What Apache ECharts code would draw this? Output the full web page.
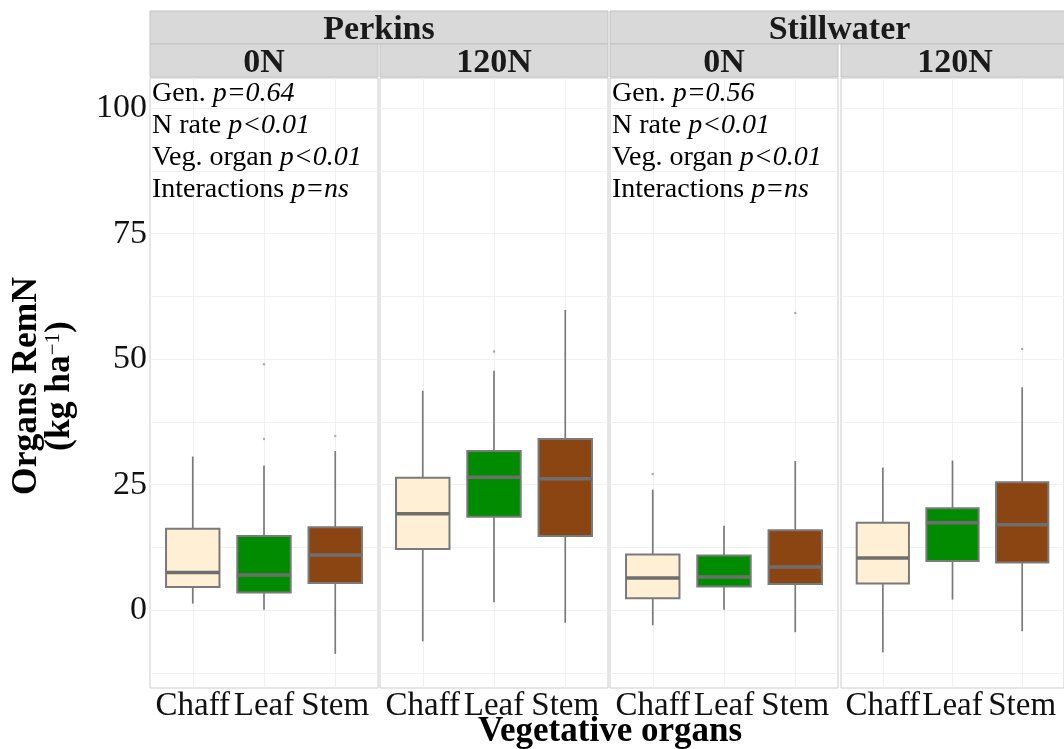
<!DOCTYPE html>
<html>
<head>
<meta charset="utf-8">
<script src="https://cdn.jsdelivr.net/npm/echarts@6/dist/echarts.min.js"></script>
<style>html,body{margin:0;padding:0;background:#fff;}#c{width:1064px;height:749px;}</style>
</head>
<body>
<div id="c"></div>
<script>
// ---- data ----
const organs = ['Chaff', 'Leaf', 'Stem'];
const organColors = ['#FFEFD5', '#008B00', '#8B4513'];
const sites = ['Perkins', 'Stillwater'];
const nRates = ['0N', '120N'];
const yTicks = [0, 25, 50, 75, 100];
const yGrid = [-12.5, 0, 12.5, 25, 37.5, 50, 62.5, 75, 87.5, 100];
// [min, q1, median, q3, max] per organ (Chaff, Leaf, Stem)
const perkins0N = [[1.3, 4.6, 7.5, 16.2, 30.6], [0.1, 3.5, 7.0, 14.8, 28.8], [-8.7, 5.4, 11.0, 16.5, 31.7]];
const perkins120N = [[-6.2, 12.2, 19.2, 26.4, 43.7], [1.6, 18.6, 26.5, 31.7, 47.7], [-2.5, 14.8, 26.2, 34.1, 59.8]];
const stillwater0N = [[-3.0, 2.4, 6.4, 11.1, 24.0], [0.1, 4.7, 6.6, 10.9, 16.8], [-4.4, 5.2, 8.6, 15.9, 29.7]];
const stillwater120N = [[-8.4, 5.3, 10.4, 17.4, 28.4], [2.1, 9.8, 17.4, 20.3, 29.8], [-4.2, 9.5, 17.0, 25.5, 44.4]];
// outliers: [organ index (1-based), value]
const perkins0NOut = [[2, 49.0], [2, 34.1], [3, 34.7]];
const perkins120NOut = [[2, 51.5]];
const stillwater0NOut = [[1, 27.1], [3, 59.2]];
const stillwater120NOut = [[3, 52.0]];
const statsText = [
  ['Gen. ', 'p=0.64', 'N rate ', 'p<0.01', 'Veg. organ ', 'p<0.01', 'Interactions ', 'p=ns'],
  ['Gen. ', 'p=0.56', 'N rate ', 'p<0.01', 'Veg. organ ', 'p<0.01', 'Interactions ', 'p=ns']
];

const panelStats = [perkins0N, perkins120N, stillwater0N, stillwater120N];
const panelOut = [perkins0NOut, perkins120NOut, stillwater0NOut, stillwater120NOut];

// ---- layout ----
const FONT = 'Liberation Serif';
const lefts = [150, 380, 610, 841];
const PW = 228, TOP = 78, PH = 610;
const YMIN = -15.5, YMAX = 106;

const grids = [], xAxes = [], yAxes = [], series = [];
lefts.forEach((l, i) => {
  grids.push({left: l, top: TOP, width: PW, height: PH, show: true, borderColor: '#CCCCCC', borderWidth: 1, backgroundColor: '#fff'});
  xAxes.push({
    type: 'value', gridIndex: i, min: 0.4, max: 3.6,
    axisLine: {show: false},
    axisTick: {show: false, customValues: [1, 2, 3]},
    axisLabel: {show: true, customValues: [1, 2, 3], formatter: v => organs[Math.round(v) - 1] || '',
      fontFamily: FONT, fontSize: 33, color: '#111', margin: 2},
    splitLine: {show: true, lineStyle: {color: '#F0F0F0', width: 1}}
  });
  yAxes.push({
    type: 'value', gridIndex: i, min: YMIN, max: YMAX,
    axisLine: {show: false},
    axisTick: {show: false, customValues: yGrid},
    axisLabel: {show: i === 0, customValues: yTicks, fontFamily: FONT, fontSize: 34, color: '#111', margin: 3},
    splitLine: {show: true, lineStyle: {color: '#F0F0F0', width: 1}}
  });
  series.push({
    type: 'custom', xAxisIndex: i, yAxisIndex: i,
    data: panelStats[i].map((s, k) => [k + 1].concat(s)),
    encode: {x: 0, y: [1, 2, 3, 4, 5]},
    renderItem: function (params, api) {
      const x = api.value(0);
      const lo = api.coord([x, api.value(1)]);
      const q1 = api.coord([x, api.value(2)]);
      const md = api.coord([x, api.value(3)]);
      const q3 = api.coord([x, api.value(4)]);
      const hi = api.coord([x, api.value(5)]);
      const w = api.size([0.75, 0])[0];
      const col = organColors[Math.round(x) - 1];
      return {type: 'group', children: [
        {type: 'line', shape: {x1: lo[0], y1: lo[1], x2: q1[0], y2: q1[1]}, style: {stroke: '#7A7A7A', lineWidth: 1.7}},
        {type: 'line', shape: {x1: q3[0], y1: q3[1], x2: hi[0], y2: hi[1]}, style: {stroke: '#7A7A7A', lineWidth: 1.7}},
        {type: 'rect', shape: {x: q3[0] - w / 2, y: q3[1], width: w, height: q1[1] - q3[1]}, style: {fill: col, stroke: '#7A7A7A', lineWidth: 2}},
        {type: 'line', shape: {x1: md[0] - w / 2, y1: md[1], x2: md[0] + w / 2, y2: md[1]}, style: {stroke: '#6E6E6E', lineWidth: 3.5}}
      ]};
    },
    z: 3
  });
  series.push({
    type: 'scatter', xAxisIndex: i, yAxisIndex: i,
    data: panelOut[i], symbol: 'circle', symbolSize: 2.5,
    itemStyle: {color: '#9A9A9A'}, z: 4
  });
});

// ---- strips and texts ----
const graphics = [];
const STRIP_FILL = '#D9D9D9', STRIP_LINE = '#C2C2C2';
function strip(x, y, w, h, label) {
  graphics.push({type: 'rect', shape: {x: x, y: y, width: w, height: h}, style: {fill: STRIP_FILL, stroke: STRIP_LINE, lineWidth: 1}, z: 10});
  graphics.push({type: 'text', x: x + w / 2, y: y + h / 2 + 3, style: {text: label, fontFamily: FONT, fontWeight: 'bold', fontSize: 34, fill: '#1A1A1A', align: 'center', verticalAlign: 'middle'}, z: 11});
}
sites.forEach((s, si) => {
  const x0 = lefts[si * 2];
  const x1 = lefts[si * 2 + 1] + PW;
  strip(x0, 11, x1 - x0, 33, s);
  nRates.forEach((n, ni) => {
    strip(lefts[si * 2 + ni], 44, PW, 33, n);
  });
});
statsText.forEach((t, si) => {
  let txt = '';
  for (let k = 0; k < t.length; k += 2) {
    txt += '{n|' + t[k] + '}{i|' + t[k + 1] + '}' + (k + 2 < t.length ? '\n' : '');
  }
  graphics.push({type: 'text', x: lefts[si * 2] + 2, y: 78, style: {
    text: txt, fontFamily: FONT, fontSize: 28, lineHeight: 32, fill: '#000', align: 'left', verticalAlign: 'top',
    rich: {n: {fontFamily: FONT, fontSize: 28, lineHeight: 32, fill: '#000'}, i: {fontFamily: FONT, fontSize: 28, fontStyle: 'italic', lineHeight: 32, fill: '#000'}}
  }, z: 12});
});
graphics.push({type: 'text', x: 43, y: 386, rotation: Math.PI / 2, style: {
  text: '{b|Organs RemN}\n{b|(kg ha}{s|−1}{b|)}', align: 'center', verticalAlign: 'middle',
  rich: {b: {fontFamily: FONT, fontWeight: 'bold', fontSize: 35.5, lineHeight: 33, fill: '#000'},
         s: {fontFamily: FONT, fontWeight: 'normal', fontSize: 21, lineHeight: 33, verticalAlign: 'top', fill: '#000'}}
}, z: 12});
graphics.push({type: 'text', x: 610, y: 732, style: {text: 'Vegetative organs', fontFamily: FONT, fontWeight: 'bold', fontSize: 35, fill: '#000', align: 'center', verticalAlign: 'middle'}, z: 12});

const chart = echarts.init(document.getElementById('c'), null, {renderer: 'canvas'});
chart.setOption({
  backgroundColor: '#fff',
  animation: false,
  grid: grids, xAxis: xAxes, yAxis: yAxes, series: series,
  graphic: {elements: graphics}
});
</script>
</body>
</html>
